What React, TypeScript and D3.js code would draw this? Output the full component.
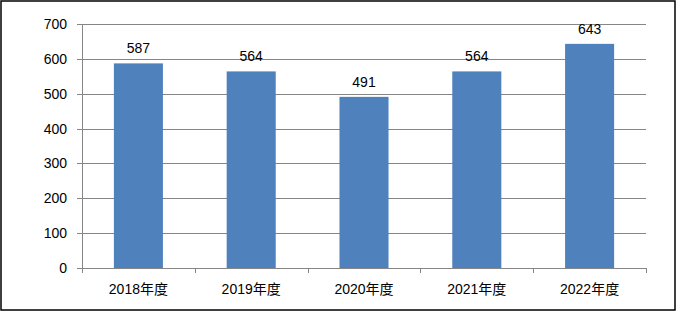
import React from "react";
import * as d3 from "d3";

const categories = ["2018年度", "2019年度", "2020年度", "2021年度", "2022年度"];
const values = [587, 564, 491, 564, 643];
const yTicks = [0, 100, 200, 300, 400, 500, 600, 700];

const W = 677;
const H = 312;
const plot = { left: 82, right: 646, top: 24, bottom: 268 };
const FONT = "'Liberation Sans', 'Noto Sans CJK SC', sans-serif";

export default function App() {
  const x = d3
    .scaleBand<string>()
    .domain(categories)
    .range([plot.left, plot.right])
    .paddingInner(0.5652)
    .paddingOuter(0.2826);
  const y = d3.scaleLinear().domain([0, 700]).range([plot.bottom, plot.top]);
  const step = x.step();
  const boundaries = d3.range(categories.length + 1).map((i) => plot.left + i * step);

  return (
    <svg
      width={W}
      height={H}
      style={{ position: "absolute", left: 0, top: 0, background: "#fff" }}
      fontFamily={FONT}
    >
      <rect x={0} y={0} width={W} height={H} fill="#fff" />
      {yTicks.map((t) => (
        <line
          key={"g" + t}
          x1={plot.left - 5}
          x2={plot.right}
          y1={Math.round(y(t)) + 0.5}
          y2={Math.round(y(t)) + 0.5}
          stroke="#868686"
          strokeWidth={1}
        />
      ))}
      <line x1={plot.left + 0.5} x2={plot.left + 0.5} y1={plot.top} y2={plot.bottom} stroke="#868686" />
      {boundaries.map((bx, i) => (
        <line
          key={"xt" + i}
          x1={Math.round(bx) + 0.5}
          x2={Math.round(bx) + 0.5}
          y1={plot.bottom}
          y2={plot.bottom + 5}
          stroke="#868686"
        />
      ))}
      {categories.map((c, i) => (
        <rect
          key={"b" + c}
          x={x(c)}
          y={y(values[i])}
          width={x.bandwidth()}
          height={y(0) - y(values[i])}
          fill="#4F81BD"
        />
      ))}
      {categories.map((c, i) => (
        <text
          key={"v" + c}
          x={(x(c) as number) + x.bandwidth() / 2}
          y={y(values[i]) - 10}
          textAnchor="middle"
          fontSize={14}
          fill="#000"
        >
          {values[i]}
        </text>
      ))}
      {yTicks.map((t) => (
        <text
          key={"yl" + t}
          x={plot.left - 15}
          y={y(t)}
          dy="0.36em"
          textAnchor="end"
          fontSize={14}
          fill="#000"
        >
          {t}
        </text>
      ))}
      {categories.map((c) => (
        <text
          key={"xl" + c}
          x={(x(c) as number) + x.bandwidth() / 2}
          y={294}
          textAnchor="middle"
          fontSize={14}
          fill="#000"
        >
          {c}
        </text>
      ))}
      <rect x={1} y={1} width={W - 3} height={H - 3} fill="none" stroke="#000" strokeWidth={1.5} />
    </svg>
  );
}
